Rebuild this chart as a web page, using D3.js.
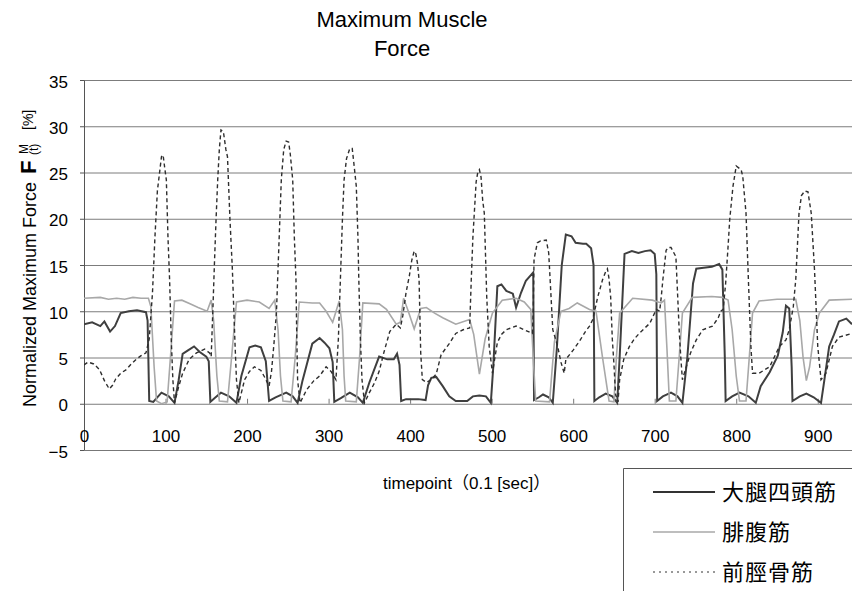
<!DOCTYPE html>
<html>
<head>
<meta charset="utf-8">
<script src="https://cdnjs.cloudflare.com/ajax/libs/d3/7.8.5/d3.min.js"></script>
<style>
  body { margin: 0; background: #fff; }
  svg { display: block; font-family: "Liberation Sans", Arial, sans-serif; }
</style>
</head>
<body>
<svg width="852" height="591"></svg>
<script>
// series names (legend order)
const seriesNames = ["大腿四頭筋", "腓腹筋", "前脛骨筋"];
const xTicks = [0, 100, 200, 300, 400, 500, 600, 700, 800, 900];
const yTicks = [-5, 0, 5, 10, 15, 20, 25, 30, 35];

// [timepoint, force %]
const quadriceps = [
  [0,8.6],[10,8.8],[20,8.4],[25,8.9],[32,7.8],[38,8.4],[45,9.8],[55,10.0],[65,10.1],[76,9.9],[78,9.0],
  [80,0.3],[85,0.2],[95,1.2],[104,0.8],[111,0.1],[116,2.5],[121,5.4],[128,5.8],[135,6.2],[142,5.6],
  [150,5.1],[153,4.6],[155,0.2],[160,0.6],[168,1.2],[178,0.8],[187,0.1],[193,3.0],[203,6.1],[210,6.3],
  [217,6.1],[223,4.6],[227,0.3],[235,0.7],[248,1.2],[256,0.8],[262,0.1],[268,2.5],[280,6.5],[289,7.1],
  [295,6.6],[301,6.0],[305,4.5],[307,0.2],[315,0.6],[326,1.2],[336,0.7],[342,0.1],[350,2.3],[362,5.1],
  [372,4.8],[380,4.8],[384,5.4],[387,4.2],[389,0.3],[395,0.5],[410,0.5],[419,0.4],[422,2.0],[426,2.8],
  [432,2.9],[440,1.9],[448,0.8],[456,0.3],[470,0.3],[477,0.8],[485,0.9],[493,0.8],[499,0.1],[502,4.0],
  [507,12.7],[512,12.9],[518,12.2],[526,11.9],[530,10.4],[536,12.0],[542,13.3],[550,14.1],[551,14.2],
  [552,0.4],[558,0.7],[563,1.0],[570,0.7],[575,0.1],[580,6.0],[586,15.0],[591,18.3],[598,18.1],
  [603,17.4],[612,17.3],[616,17.3],[622,16.8],[625,15.0],[626,0.3],[632,0.7],[640,1.1],[648,0.8],
  [654,0.1],[657,5.0],[663,16.2],[672,16.5],[680,16.3],[688,16.5],[695,16.6],[700,16.2],[702,14.0],
  [703,0.3],[710,0.8],[720,1.2],[728,0.8],[734,0.1],[740,5.0],[747,13.0],[751,14.6],[760,14.7],
  [770,14.8],[779,15.1],[783,14.5],[786,5.0],[787,0.3],[795,0.8],[804,1.2],[815,0.8],[824,0.1],
  [830,1.9],[841,3.4],[851,5.2],[857,7.7],[861,10.6],[865,10.3],[868,4.0],[869,0.3],[878,0.8],
  [886,1.1],[895,0.7],[904,0.1],[908,2.5],[914,6.2],[920,7.5],[926,8.9],[935,9.2],[942,8.6]
];

const gastrocnemius = [
  [0,11.4],[20,11.5],[30,11.3],[40,11.4],[50,11.3],[60,11.5],[70,11.4],[79,11.4],[82,10.5],[86,4.0],
  [89,0.3],[95,0],[102,0.2],[106,5.0],[111,11.1],[120,11.2],[130,10.8],[140,10.4],[151,10.0],[156,11.2],
  [159,9.0],[163,3.0],[166,0.3],[176,0.2],[181,5.0],[187,11.0],[200,11.2],[215,11.0],[227,10.3],
  [234,11.2],[238,8.0],[241,3.0],[244,0.3],[254,0.2],[259,5.0],[264,11.0],[280,10.9],[289,10.9],
  [297,10.0],[305,8.8],[313,11.1],[317,8.0],[319,3.0],[321,0.3],[334,0.2],[338,5.0],[342,10.9],
  [362,10.8],[371,10.2],[383,8.6],[388,8.8],[392,11.4],[397,10.2],[405,8.1],[413,10.3],[420,10.4],
  [430,9.8],[440,9.3],[456,8.6],[473,9.1],[478,7.5],[485,3.2],[492,7.0],[501,9.8],[513,11.2],
  [530,11.4],[540,11.0],[548,10.2],[551,5.0],[554,0.3],[571,0.2],[574,3.5],[577,6.7],[585,10.0],
  [595,10.3],[605,10.9],[620,10.2],[628,10.0],[636,5.0],[644,0.3],[650,0.2],[653,5.0],[657,9.8],
  [673,11.4],[697,11.2],[708,10.9],[712,11.2],[715,6.0],[718,0.3],[726,0.3],[730,5.0],[734,9.8],
  [746,11.5],[770,11.6],[783,11.5],[790,11.2],[795,8.0],[800,3.0],[804,0.3],[812,0.3],[816,5.0],
  [820,9.8],[828,11.1],[850,11.3],[873,11.3],[878,9.0],[882,5.0],[886,2.5],[890,4.0],[896,8.0],
  [902,9.8],[914,11.2],[942,11.3]
];

const tibialis = [
  [0,4.2],[5,4.5],[12,4.3],[19,3.7],[25,2.5],[31,1.6],[35,2.0],[39,2.7],[45,3.3],[52,3.7],[58,4.3],
  [64,4.8],[70,5.2],[76,5.5],[80,7.0],[84,12.0],[87,18.0],[90,23.0],[95,26.7],[97,26.9],[99,25.5],
  [101,24.2],[103,18.0],[105,13.4],[107,7.0],[109,2.6],[111,0.1],[116,1.8],[121,3.3],[129,4.8],
  [138,5.5],[148,5.9],[154,5.5],[156,5.1],[158,10.0],[160,15.2],[162,20.0],[164,24.2],[166,27.5],
  [168,29.6],[171,29.4],[174,27.5],[176,26.7],[179,20.0],[182,14.5],[185,7.0],[187,2.6],[190,0.1],
  [197,2.6],[203,3.5],[209,4.0],[217,3.6],[222,2.8],[227,1.9],[230,3.5],[233,6.5],[236,9.8],
  [239,17.0],[242,24.2],[245,27.5],[248,28.4],[251,28.3],[253,27.0],[256,24.2],[258,18.0],[260,13.4],
  [261,7.0],[262,2.6],[265,0.1],[273,1.5],[282,2.5],[289,3.0],[297,4.0],[303,3.5],[309,2.6],
  [312,7.0],[315,14.8],[317,20.0],[319,24.2],[322,26.5],[326,27.6],[329,27.6],[331,26.0],[334,23.5],
  [336,18.0],[337,13.7],[339,7.0],[341,2.6],[344,0.1],[350,1.2],[356,2.2],[362,3.5],[368,5.6],
  [375,7.8],[383,8.6],[388,8.2],[391,9.5],[395,12.0],[399,13.8],[402,15.5],[405,16.5],[407,16.2],
  [409,15.2],[411,13.4],[413,5.5],[415,2.6],[420,2.3],[426,2.6],[432,3.2],[438,5.3],[448,6.5],
  [456,7.6],[465,8.0],[473,8.2],[475,13.4],[477,18.0],[479,21.0],[481,24.0],[483,25.0],[485,25.3],
  [487,24.5],[489,22.0],[491,20.6],[494,11.5],[497,6.2],[501,3.3],[504,5.0],[507,6.6],[512,7.5],
  [518,8.0],[530,8.4],[540,8.0],[550,7.6],[551,10.0],[552,15.6],[556,17.4],[560,17.6],[567,17.7],
  [570,16.3],[575,8.0],[581,6.2],[585,4.5],[589,3.3],[591,4.8],[600,5.8],[608,6.8],[615,7.8],
  [620,8.4],[624,9.1],[630,11.5],[636,13.4],[640,14.3],[642,14.6],[644,13.5],[646,11.5],[648,7.0],
  [650,4.3],[652,1.0],[655,0.2],[657,2.6],[662,4.8],[669,6.2],[675,7.0],[681,7.6],[688,8.2],
  [694,8.7],[702,10.2],[706,10.0],[708,11.5],[710,13.4],[714,16.6],[717,16.9],[720,16.9],[723,16.4],
  [726,15.9],[728,12.0],[730,8.0],[732,5.0],[734,2.6],[737,3.5],[744,5.5],[751,6.9],[759,8.0],
  [771,8.4],[778,9.3],[781,10.0],[784,10.2],[787,13.0],[790,17.0],[792,19.9],[796,23.5],[800,25.7],
  [803,25.5],[806,25.3],[808,24.6],[812,20.6],[815,13.2],[818,6.2],[820,3.3],[828,3.3],[841,4.0],
  [853,6.2],[861,6.9],[865,8.0],[870,10.5],[873,13.4],[877,20.6],[880,22.5],[884,23.0],[888,22.9],
  [892,20.6],[896,14.5],[900,6.2],[904,2.6],[910,3.3],[918,6.2],[926,7.2],[942,7.6]
];

const svg = d3.select('svg');
const W = 852;

const x = d3.scaleLinear().domain([0, 942]).range([84, 852]);
const y = d3.scaleLinear().domain([-5, 35]).range([450, 80]);

// horizontal gridlines
svg.append('g')
  .attr('transform', `translate(${x(0)},0)`)
  .call(d3.axisLeft(y)
    .tickValues(yTicks.filter(v => v >= 0))
    .tickSize(-(W - x(0)))
    .tickFormat(''))
  .call(g => g.select('.domain').remove())
  .selectAll('line').attr('stroke', '#7c7c7c');

// y axis with labels
const yAxis = svg.append('g')
  .attr('transform', `translate(${x(0)},0)`)
  .call(d3.axisLeft(y).tickValues(yTicks).tickSize(4).tickSizeOuter(0).tickPadding(12));
yAxis.select('.domain').attr('stroke', '#555');
yAxis.selectAll('line').attr('stroke', '#555');
yAxis.selectAll('text')
  .attr('font-size', 17)
  .attr('font-family', '"Liberation Sans", Arial, sans-serif')
  .attr('fill', '#000')
  .attr('dy', '0.42em');

// small ticks on the zero line
svg.append('g')
  .attr('transform', `translate(0,${y(0)})`)
  .call(d3.axisTop(x).tickValues(xTicks.slice(1)).tickSize(5).tickFormat(''))
  .call(g => g.select('.domain').remove())
  .selectAll('line').attr('stroke', '#777');

// x tick labels sit between the zero line and the bottom
const xAxis = svg.append('g')
  .attr('transform', `translate(0,${y(0)})`)
  .call(d3.axisBottom(x).tickValues(xTicks).tickSize(0).tickPadding(26));
xAxis.select('.domain').remove();
xAxis.selectAll('text')
  .attr('font-size', 17)
  .attr('font-family', '"Liberation Sans", Arial, sans-serif')
  .attr('fill', '#000');

// bottom line
svg.append('line')
  .attr('x1', x(0)).attr('x2', W)
  .attr('y1', y(-5) + 0.5).attr('y2', y(-5) + 0.5)
  .attr('stroke', '#777');

// series
const line = d3.line().x(d => x(d[0])).y(d => y(d[1]));
const styles = [
  { data: quadriceps, color: '#3f3f3f', width: 2, dash: null },
  { data: gastrocnemius, color: '#a8a8a8', width: 1.6, dash: null },
  { data: tibialis, color: '#2e2e2e', width: 1.4, dash: '4,3' }
];

svg.append('clipPath').attr('id', 'plot')
  .append('rect').attr('x', x(0)).attr('y', y(35) - 5).attr('width', W - x(0)).attr('height', y(-5) - y(35) + 5);

const plot = svg.append('g').attr('clip-path', 'url(#plot)');
styles.forEach(s => {
  plot.append('path')
    .datum(s.data)
    .attr('d', line)
    .attr('fill', 'none')
    .attr('stroke', s.color)
    .attr('stroke-width', s.width)
    .attr('stroke-dasharray', s.dash);
});

// title
svg.append('text')
  .attr('x', 402).attr('y', 27)
  .attr('text-anchor', 'middle')
  .attr('font-size', 22)
  .text('Maximum Muscle');
svg.append('text')
  .attr('x', 402).attr('y', 56)
  .attr('text-anchor', 'middle')
  .attr('font-size', 22)
  .text('Force');

// x axis title
svg.append('text')
  .attr('x', 383).attr('y', 489)
  .attr('font-size', 17)
  .attr('font-family', '"Liberation Sans", "Noto Sans CJK JP", sans-serif')
  .text('timepoint（0.1 [sec]）');

// y axis title, built in a rotated group
const yt = svg.append('g').attr('transform', 'rotate(-90)');
yt.append('text')
  .attr('x', -407).attr('y', 36)
  .attr('font-size', 18)
  .text('Normalized Maximum Force');
yt.append('text')
  .attr('x', -174).attr('y', 36)
  .attr('font-size', 22)
  .attr('font-weight', 'bold')
  .text('F');
yt.append('text')
  .attr('x', -154).attr('y', 28)
  .attr('font-size', 12)
  .text('M');
yt.append('text')
  .attr('x', -155).attr('y', 38)
  .attr('font-size', 12)
  .text('(t)');
yt.append('text')
  .attr('x', -130).attr('y', 33)
  .attr('font-size', 14)
  .text('[%]');

// legend
const legend = svg.append('g');
legend.append('path')
  .attr('d', `M623.5,591V468.5H${W}`)
  .attr('fill', 'none')
  .attr('stroke', '#555');

const legendY = [492, 532, 572];
seriesNames.forEach((name, i) => {
  legend.append('line')
    .attr('x1', 653).attr('x2', 715)
    .attr('y1', legendY[i]).attr('y2', legendY[i])
    .attr('stroke', i === 1 ? '#a8a8a8' : '#333')
    .attr('stroke-width', i === 0 ? 2 : (i === 1 ? 1.5 : 1))
    .attr('stroke-dasharray', i === 2 ? '2,4' : null);
  legend.append('text')
    .attr('x', 722).attr('y', legendY[i])
    .attr('dy', '0.36em')
    .attr('font-size', 22)
    .attr('letter-spacing', 1)
    .attr('font-family', '"Noto Sans CJK JP", sans-serif')
    .text(name);
});
</script>
</body>
</html>
